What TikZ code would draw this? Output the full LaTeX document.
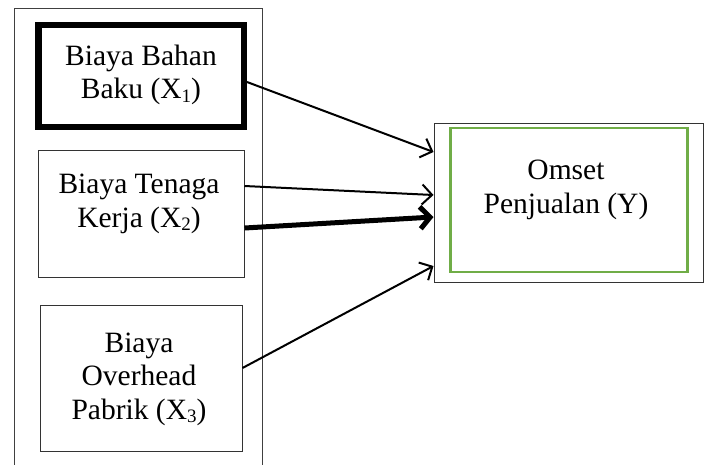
\documentclass[tikz,border=0pt]{standalone}
\usepackage{fontspec}
\setmainfont{Liberation Serif}
\usetikzlibrary{arrows.meta}
\newcommand{\mysub}[1]{\raisebox{-0.12em}{\fontsize{19}{19}\selectfont #1}}
\begin{document}
\begin{tikzpicture}[x=1pt,y=-1pt,
  box/.style={draw=black!80,line width=1pt,rectangle,inner sep=0pt,anchor=center},
  lbl/.style={align=center,font=\fontsize{29.5}{33.5}\selectfont,inner sep=0pt,anchor=center},
  conn/.style={line width=2pt,-{Straight Barb[length=10pt,width=20pt,line width=2pt]}},
  thickconn/.style={line width=5pt,-{Straight Barb[length=10pt,width=22pt,line width=5pt]}}]
\useasboundingbox (0,0) rectangle (708,464);
% outer frame (continues beyond bottom edge)
\draw[black!75,line width=1pt] (14,470) -- (14,8) -- (262,8) -- (262,470);
% left boxes
\node[box,draw=black,line width=6.5pt,minimum width=205.5pt,minimum height=102pt] (x1) at (141,76) {};
\node[lbl] (t1) at (141,75) {Biaya Bahan\\Baku (X\mysub{1})};
\node[box,minimum width=206pt,minimum height=127pt] (x2) at (141,214) {};
\node[lbl] (t2) at (139,204) {Biaya Tenaga\\Kerja (X\mysub{2})};
\node[box,minimum width=202pt,minimum height=146pt] (x3) at (141,378) {};
\node[lbl] (t3) at (139,379) {Biaya\\Overhead\\Pabrik (X\mysub{3})};
% right box
\node[box,minimum width=269pt,minimum height=159pt] (y) at (568.5,202.5) {};
\node[box,draw={rgb,255:red,112;green,173;blue,71},line width=2.4pt,minimum width=237pt,minimum height=144pt] (yin) at (569,200) {};
\node[lbl] (ty) at (566,190) {Omset\\Penjualan (Y)};
% connectors
\coordinate (a1) at (x1.east |- 0,82);
\coordinate (b1) at (y.west |- 0,152);
\coordinate (a2) at (x2.east |- 0,186);
\coordinate (b2) at (y.west |- 0,195);
\coordinate (a3) at (x2.east |- 0,228);
\coordinate (b3) at (y.west |- 0,217);
\coordinate (a4) at (x3.east |- 0,368);
\coordinate (b4) at (y.west |- 0,266);
\draw[conn] (a1) -- (b1);
\draw[conn] (a2) -- (b2);
\draw[thickconn] (a3) -- (b3);
\draw[conn] (a4) -- (b4);
\end{tikzpicture}
\end{document}
